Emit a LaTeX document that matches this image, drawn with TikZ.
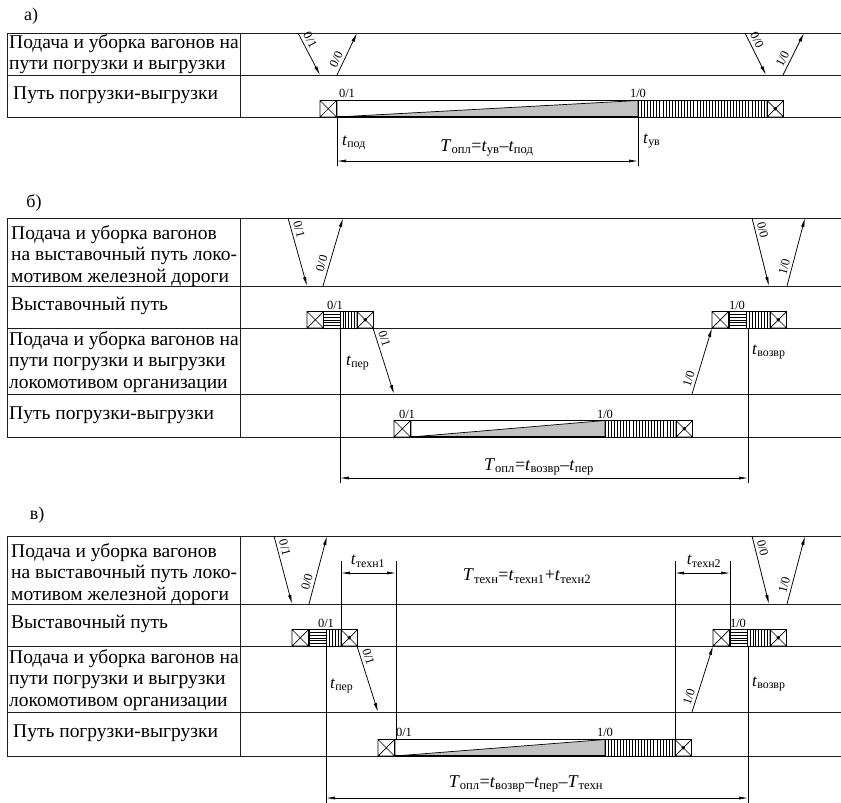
\documentclass[tikz,border=0pt]{standalone}
\usepackage{fontspec}
\setmainfont{Liberation Serif}
\usepackage{xcolor}
\definecolor{lineDark}{HTML}{1E1E1E}
\definecolor{wedgeGray}{HTML}{C2C2C2}
\usetikzlibrary{arrows.meta,positioning,calc}
\tikzset{%
  gridLine/.style={%
    line width=0.9pt,
    color=lineDark
  },
  cellEdge/.style={line width=0.7pt},
  hatchLine/.style={line width=0.45pt},
  flowArrow/.style={%
    -{Latex[length=9pt,width=3.4pt]},
    line width=0.75pt
  },
  dimArrow/.style={%
    {Latex[length=9pt,width=3pt]}-{Latex[length=9pt,width=3pt]},
    line width=0.6pt
  },
  extLine/.style={line width=0.6pt},
  rowText/.style={%
    anchor=west,
    align=left,
    inner sep=0pt,
    font=\fontsize{19.5}{21.5}\selectfont
  },
  tagText/.style={inner sep=0pt, font=\fontsize{18}{20}\selectfont},
  flowLabel/.style={sloped, above, pos=0.25, inner sep=3pt, font=\fontsize{12.5}{14}\selectfont},
  stateLabel/.style={above, inner sep=2pt, font=\fontsize{12.5}{14}\selectfont},
  timeLabel/.style={anchor=west, inner sep=0pt, font=\fontsize{17}{19}\selectfont},
  formula/.style={inner sep=0pt, font=\fontsize{18}{20}\selectfont}
}
% wagon cells: left x, bottom y (cell height 16.5)
\newcommand{\xcell}[2]{%
  \draw[cellEdge] (#1,#2) rectangle ++(16.5,-16.5)
    (#1,#2) -- ++(16.5,-16.5) ++(-16.5,0) -- ++(16.5,16.5);}
\newcommand{\xdotcell}[2]{%
  \xcell{#1}{#2}
  \fill (#1+8.25,#2-8.25) circle (1.9);}
\newcommand{\hhatch}[3]{%
  \draw[cellEdge] (#1,#3) rectangle (#2,#3-16.5);
  \foreach \k in {1,...,5} \draw[hatchLine] (#1,#3-\k*2.75) -- (#2,#3-\k*2.75);}
\newcommand{\vhatch}[3]{%
  \draw[cellEdge] (#1,#3) rectangle (#2,#3-16.5);
  \pgfmathtruncatemacro\nbars{(#2-#1)/3.1}
  \foreach \k in {1,...,\nbars} \draw[hatchLine] ({#1+\k*(#2-#1)/(\nbars+1)},#3) -- ++(0,-16.5);}
\newcommand{\loadwedge}[3]{%
  \fill[wedgeGray] (#1,#3) -- (#2,#3-16.5) -- (#2,#3) -- cycle;
  \draw[cellEdge] (#1,#3) rectangle (#2,#3-16.5) (#1,#3) -- (#2,#3-16.5);
  \draw[line width=1.6pt] (#1,#3) -- (#2,#3);}
\newcommand{\tsub}[2]{\textit{#1}\textsubscript{#2}}

\begin{document}
\begin{tikzpicture}[x=1pt,y=-1pt]
\useasboundingbox (0,0) rectangle (841,803);

% ---------------- а) ----------------
\node[tagText] (a-tag) at (31,16) {а)};
\draw[gridLine] (841,33) -- (7,33) -- (7,117) -- (841,117)
  (7,75) -- (841,75) (240,33) -- (240,117);
\node[rowText] (a-feed) at (9,54) {Подача и уборка вагонов на\\пути погрузки и выгрузки};
\node[rowText] (a-track) at (13,95) {Путь погрузки-выгрузки};

\coordinate (a-in0) at (298,33);   \coordinate (a-in1) at (320,75);
\coordinate (a-back0) at (337,75); \coordinate (a-back1) at (357,33);
\coordinate (a-go0) at (745,33);   \coordinate (a-go1) at (766,75);
\coordinate (a-out0) at (783,75);  \coordinate (a-out1) at (804,33);
\draw[flowArrow] (a-in0) -- node[flowLabel] (a-l1) {0/1} (a-in1);
\draw[flowArrow] (a-back0) -- node[flowLabel, pos=0.3] (a-l2) {0/0} (a-back1);
\draw[flowArrow] (a-go0) -- node[flowLabel] (a-l3) {0/0} (a-go1);
\draw[flowArrow] (a-out0) -- node[flowLabel, pos=0.3] (a-l4) {1/0} (a-out1);

\xcell{320}{117}
\loadwedge{337}{638}{117}
\vhatch{638}{703}{117}
\vhatch{703}{767}{117}
\xdotcell{767}{117}
\node[stateLabel] (a-s01) at (347,100) {0/1};
\node[stateLabel] (a-s10) at (638,100) {1/0};

\draw[extLine] (337,117) -- (337,166) (638,117) -- (638,166);
\coordinate (a-dim0) at (337,161); \coordinate (a-dim1) at (638,161);
\draw[dimArrow] (a-dim0) -- (a-dim1);
\node[timeLabel] (a-tpod) at (342,143) {\tsub{t}{под}};
\node[timeLabel] (a-tuv) at (643,141) {\tsub{t}{ув}};
\node[formula] (a-topl) at (487,148) {\tsub{T}{опл}=\tsub{t}{ув}–\tsub{t}{под}};

% ---------------- б) ----------------
\node[tagText] (b-tag) at (34,203) {б)};
\draw[gridLine] (841,218) -- (7,218) -- (7,437) -- (841,437)
  (7,286) -- (841,286) (7,328) -- (841,328) (7,394) -- (841,394)
  (240,218) -- (240,437);
\node[rowText] (b-feed) at (11,256) {Подача и уборка вагонов\\на выставочный путь локо-\\мотивом железной дороги};
\node[rowText] (b-show) at (11,306) {Выставочный путь};
\node[rowText] (b-move) at (9,362) {Подача и уборка вагонов на\\пути погрузки и выгрузки\\локомотивом организации};
\node[rowText] (b-track) at (9,415) {Путь погрузки-выгрузки};

\coordinate (b-in0) at (288,218);   \coordinate (b-in1) at (307,286);
\coordinate (b-back0) at (323,286); \coordinate (b-back1) at (343,218);
\coordinate (b-go0) at (752,218);   \coordinate (b-go1) at (769,286);
\coordinate (b-out0) at (787,286);  \coordinate (b-out1) at (805,218);
\coordinate (b-pass0) at (373,328); \coordinate (b-pass1) at (394,394);
\coordinate (b-ret0) at (692,394);  \coordinate (b-ret1) at (712,328);
\draw[flowArrow] (b-in0) -- node[flowLabel, pos=0.2] (b-l1) {0/1} (b-in1);
\draw[flowArrow] (b-back0) -- node[flowLabel, pos=0.3] (b-l2) {0/0} (b-back1);
\draw[flowArrow] (b-go0) -- node[flowLabel, pos=0.2] (b-l3) {0/0} (b-go1);
\draw[flowArrow] (b-out0) -- node[flowLabel] (b-l4) {1/0} (b-out1);
\draw[flowArrow] (b-pass0) -- node[flowLabel, pos=0.2] (b-l5) {0/1} (b-pass1);
\draw[flowArrow] (b-ret0) -- node[flowLabel, pos=0.2] (b-l6) {1/0} (b-ret1);

\xcell{307}{328} \hhatch{323}{340}{328} \vhatch{340}{357}{328} \xdotcell{357}{328}
\node[stateLabel] (b-s01) at (335,312) {0/1};
\xcell{712}{328} \hhatch{729}{746}{328} \vhatch{746}{770}{328} \xdotcell{770}{328}
\node[stateLabel] (b-s10) at (737,312) {1/0};
\xcell{394}{437}
\loadwedge{411}{605}{437}
\vhatch{605}{676}{437}
\xdotcell{676}{437}
\node[stateLabel] (b-w01) at (407,421) {0/1};
\node[stateLabel] (b-w10) at (605,421) {1/0};

\draw[extLine] (340,328) -- (340,483) (748,328) -- (748,483);
\coordinate (b-dim0) at (340,478); \coordinate (b-dim1) at (748,478);
\draw[dimArrow] (b-dim0) -- (b-dim1);
\node[timeLabel] (b-tper) at (346,363) {\tsub{t}{пер}};
\node[timeLabel] (b-tvoz) at (752,352) {\tsub{t}{возвр}};
\node[formula] (b-topl) at (539,467) {\tsub{T}{опл}=\tsub{t}{возвр}–\tsub{t}{пер}};

% ---------------- в) ----------------
\node[tagText] (c-tag) at (37,515) {в)};
\draw[gridLine] (841,536) -- (7,536) -- (7,756) -- (841,756)
  (7,604) -- (841,604) (7,646) -- (841,646) (7,712) -- (841,712)
  (240,536) -- (240,756);
\node[rowText] (c-feed) at (11,574) {Подача и уборка вагонов\\на выставочный путь локо-\\мотивом железной дороги};
\node[rowText] (c-show) at (11,624) {Выставочный путь};
\node[rowText] (c-move) at (9,680) {Подача и уборка вагонов на\\пути погрузки и выгрузки\\локомотивом организации};
\node[rowText] (c-track) at (13,733) {Путь погрузки-выгрузки};

\coordinate (c-in0) at (274,536);   \coordinate (c-in1) at (292,604);
\coordinate (c-back0) at (309,604); \coordinate (c-back1) at (327,536);
\coordinate (c-go0) at (752,536);   \coordinate (c-go1) at (769,604);
\coordinate (c-out0) at (787,604);  \coordinate (c-out1) at (805,536);
\coordinate (c-pass0) at (357,646); \coordinate (c-pass1) at (378,712);
\coordinate (c-ret0) at (692,712);  \coordinate (c-ret1) at (713,646);
\draw[flowArrow] (c-in0) -- node[flowLabel, pos=0.2] (c-l1) {0/1} (c-in1);
\draw[flowArrow] (c-back0) -- node[flowLabel, pos=0.3] (c-l2) {0/0} (c-back1);
\draw[flowArrow] (c-go0) -- node[flowLabel, pos=0.2] (c-l3) {0/0} (c-go1);
\draw[flowArrow] (c-out0) -- node[flowLabel] (c-l4) {1/0} (c-out1);
\draw[flowArrow] (c-pass0) -- node[flowLabel, pos=0.2] (c-l5) {0/1} (c-pass1);
\draw[flowArrow] (c-ret0) -- node[flowLabel, pos=0.2] (c-l6) {1/0} (c-ret1);

\xcell{292}{646} \hhatch{309}{326}{646} \vhatch{326}{341}{646} \xdotcell{341}{646}
\node[stateLabel] (c-s01) at (326,630) {0/1};
\xcell{713}{646} \hhatch{730}{747}{646} \vhatch{747}{770}{646} \xdotcell{770}{646}
\node[stateLabel] (c-s10) at (738,630) {1/0};
\xcell{378}{756}
\loadwedge{395}{605}{756}
\vhatch{605}{675}{756}
\xdotcell{675}{756}
\node[stateLabel] (c-w01) at (404,739) {0/1};
\node[stateLabel] (c-w10) at (605,739) {1/0};

% technological intervals
\draw[extLine] (341,561) -- (341,630) (396,561) -- (396,739)
  (675,561) -- (675,739) (730,561) -- (730,630);
\coordinate (c-th1a) at (341,573); \coordinate (c-th1b) at (396,573);
\coordinate (c-th2a) at (675,573); \coordinate (c-th2b) at (730,573);
\draw[dimArrow] (c-th1a) -- (c-th1b);
\draw[dimArrow] (c-th2a) -- (c-th2b);
\node[timeLabel, anchor=center] (c-tt1) at (368,561) {\tsub{t}{техн1}};
\node[timeLabel, anchor=center] (c-tt2) at (704,561) {\tsub{t}{техн2}};
\node[formula] (c-ttech) at (527,576) {\tsub{T}{техн}=\tsub{t}{техн1}+\tsub{t}{техн2}};

\draw[extLine] (326,646) -- (326,803) (748,646) -- (748,803);
\coordinate (c-dim0) at (326,798); \coordinate (c-dim1) at (748,798);
\draw[dimArrow] (c-dim0) -- (c-dim1);
\node[timeLabel] (c-tper) at (330,686) {\tsub{t}{пер}};
\node[timeLabel] (c-tvoz) at (752,684) {\tsub{t}{возвр}};
\node[formula] (c-topl) at (526,784) {\tsub{T}{опл}=\tsub{t}{возвр}–\tsub{t}{пер}–\tsub{T}{техн}};
\end{tikzpicture}
\end{document}
